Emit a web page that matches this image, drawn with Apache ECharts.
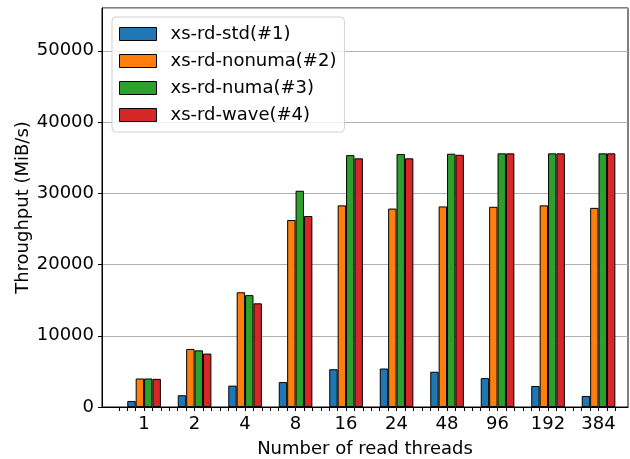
<!DOCTYPE html>
<html>
<head>
<meta charset="utf-8">
<script src="https://cdn.jsdelivr.net/npm/echarts@6/dist/echarts.min.js"></script>
<style>
  html, body { margin: 0; padding: 0; background: #fff; }
  #chart { width: 630px; height: 459px; }
</style>
</head>
<body>
<div id="chart"></div>
<script>
const threads = ['1', '2', '4', '8', '16', '24', '48', '96', '192', '384'];
const seriesNames = ['xs-rd-std(#1)', 'xs-rd-nonuma(#2)', 'xs-rd-numa(#3)', 'xs-rd-wave(#4)'];
const stdVals    = [850, 1650, 3000, 3500, 5300, 5400, 4950, 4050, 2950, 1550];
const nonumaVals = [4000, 8150, 16100, 26250, 28300, 27850, 28150, 28100, 28300, 27950];
const numaVals   = [4000, 7950, 15700, 30350, 35350, 35500, 35550, 35600, 35600, 35600];
const waveVals   = [3950, 7500, 14550, 26800, 34900, 34900, 35400, 35600, 35600, 35600];
const colors = ['#1f77b4', '#ff7f0e', '#2ca02c', '#d62728'];

// each thread group takes 6 slots on the x scale, labelled at its middle
const slot = 6;
const labelPos = threads.map((t, i) => i * slot + 3);
const tickPos = [];
for (let i = 0; i < threads.length * slot; i++) tickPos.push(i);

const font = 'DejaVu Sans';
const chart = echarts.init(document.getElementById('chart'));

const allVals = [stdVals, nonumaVals, numaVals, waveVals];

const option = {
    animation: false,
    backgroundColor: '#fff',
    textStyle: { fontFamily: font },
    grid: {
        left: 102, right: 2, top: 8, bottom: 52,
        outerBoundsMode: 'none',
        containLabel: false,
        show: true, borderColor: '#000', borderWidth: 1
    },
    legend: {
        left: 112, top: 17,
        orient: 'vertical',
        selectedMode: false,
        data: seriesNames,
        icon: 'rect',
        itemWidth: 37, itemHeight: 13, itemGap: 9,
        padding: [8, 8, 8, 7],
        backgroundColor: 'rgba(255,255,255,0.8)',
        borderColor: '#d0d0d0', borderWidth: 1, borderRadius: 4,
        itemStyle: { borderColor: '#000', borderWidth: 1 },
        textStyle: { fontSize: 18, color: '#000', fontFamily: font, padding: [0, 0, 0, 9] }
    },
    xAxis: {
        type: 'value',
        min: -2, max: 60.5,
        name: 'Number of read threads',
        nameLocation: 'middle',
        nameGap: 33,
        nameMoveOverlap: false,
        nameTextStyle: { fontSize: 18, color: '#000', fontFamily: font },
        axisLine: { show: true, onZero: false, lineStyle: { color: '#000', width: 1 } },
        axisTick: { show: true, length: 4, customValues: tickPos, lineStyle: { color: '#000' } },
        axisLabel: {
            customValues: labelPos,
            fontSize: 18, color: '#000', fontFamily: font, margin: 8,
            formatter: v => threads[Math.round((v - 3) / slot)]
        },
        splitLine: { show: false }
    },
    yAxis: {
        type: 'value',
        min: 0, max: 56000, interval: 10000,
        name: 'Throughput (MiB/s)',
        nameLocation: 'middle',
        nameGap: 70,
        nameMoveOverlap: false,
        nameTextStyle: { fontSize: 18, color: '#000', fontFamily: font },
        axisLine: { show: true, onZero: false, lineStyle: { color: '#000', width: 1 } },
        axisTick: { show: true, length: 4, lineStyle: { color: '#000' } },
        axisLabel: {
            fontSize: 18, color: '#000', fontFamily: font, margin: 8, showMaxLabel: false,
            formatter: v => String(v)
        },
        splitLine: { show: true, lineStyle: { color: '#b0b0b0', width: 1 } }
    },
    series: seriesNames.map((name, k) => ({
        name: name,
        type: 'bar',
        barWidth: 8.4,
        barGap: 0,
        data: allVals[k].map((v, i) => [labelPos[i], v]),
        itemStyle: { color: colors[k], borderColor: '#000', borderWidth: 1 }
    }))
};

chart.setOption(option);
</script>
</body>
</html>
